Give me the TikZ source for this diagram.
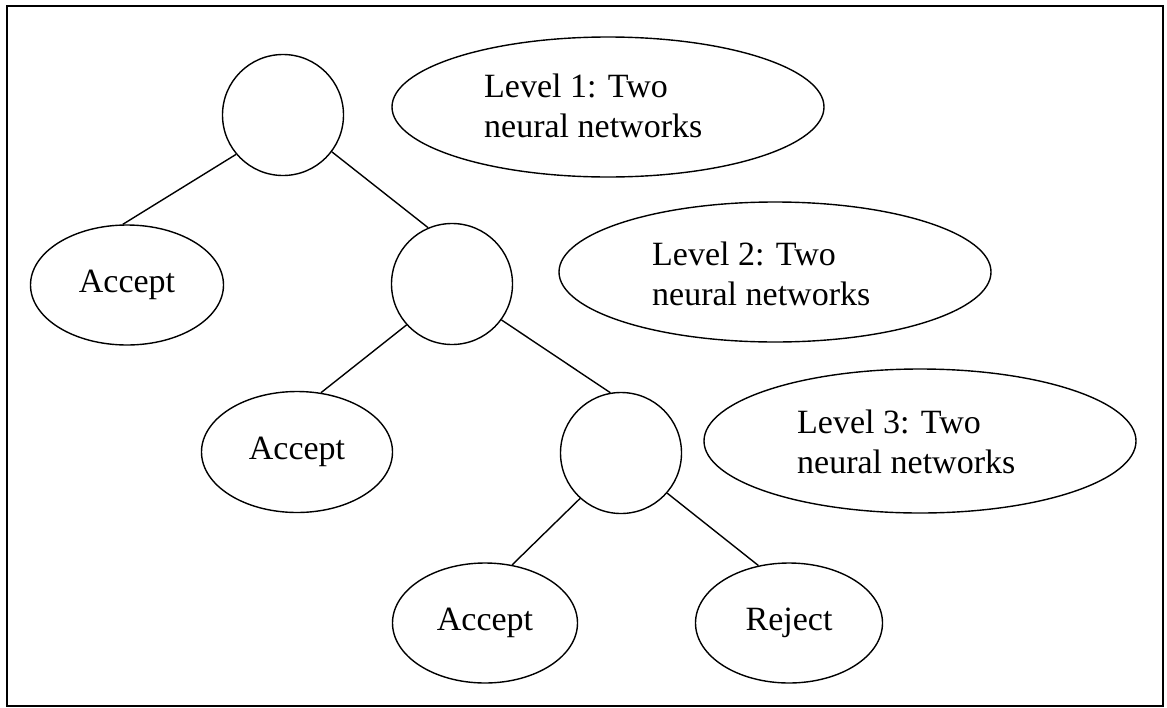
\documentclass[tikz,border=0pt]{standalone}
\usepackage{fontspec}
\setmainfont{Liberation Serif}
\usetikzlibrary{shapes.geometric}
\begin{document}
\begin{tikzpicture}[x=1pt,y=-1pt,
  every node/.style={font=\fontsize{34}{40}\selectfont},
  dec/.style={circle,draw,line width=1.4pt,minimum size=121pt,inner sep=0pt},
  leaf/.style={ellipse,draw,line width=1.4pt,inner sep=0pt},
  lvl/.style={ellipse,draw,line width=1.4pt,inner sep=0pt,minimum width=432pt,minimum height=140pt},
  lvltext/.style={anchor=north west,align=left,inner sep=0pt},
  edge/.style={line width=1.4pt}]
\useasboundingbox (0,0) rectangle (1167,707);
\draw[line width=2pt] (7,6) rectangle (1163,706);
% decision circles
\node[dec] (c1) at (283,115) {};
\node[dec] (c2) at (452,284) {};
\node[dec] (c3) at (621,453) {};
% leaves
\node[leaf,minimum width=193pt,minimum height=120pt] (a1) at (127,285) {Accept};
\node[leaf,minimum width=191pt,minimum height=121pt] (a2) at (297,452) {Accept};
\node[leaf,minimum width=185pt,minimum height=120pt] (a3) at (485,623) {Accept};
\node[leaf,minimum width=187pt,minimum height=120pt] (r1) at (789,623) {Reject};
% level ellipses
\node[lvl] (l1) at (608,107) {};
\node[lvl] (l2) at (775,272) {};
\node[lvl,minimum height=144pt] (l3) at (920,441) {};
\node[lvltext] (l1t) at (484,74) {Level 1: Two\\neural networks};
\node[lvltext] (l2t) at (652,242) {Level 2: Two\\neural networks};
\node[lvltext] (l3t) at (797,410) {Level 3: Two\\neural networks};
% connectors
\draw[edge] (c1.-140) -- (a1.94);
\draw[edge] (c1.-37) -- (c2.113);
\draw[edge] (c2.-138) -- (a2.68);
\draw[edge] (c2.-36) -- (c3.100);
\draw[edge] (c3.-132) -- (a3.65);
\draw[edge] (c3.-41) -- (r1.118);
\end{tikzpicture}
\end{document}
